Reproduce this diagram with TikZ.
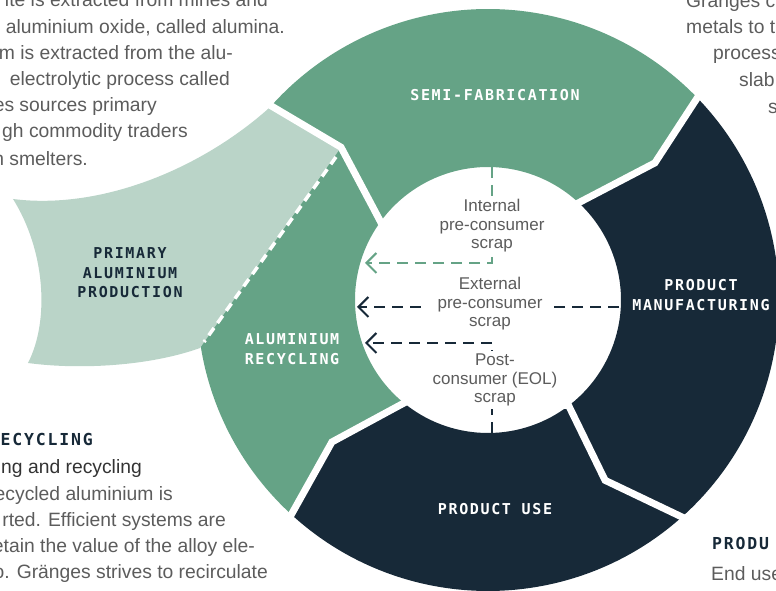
\documentclass[tikz,border=0pt]{standalone}
\usepackage{fontspec}
\setmainfont{Liberation Sans}
\newfontfamily\capsfont[LetterSpace=11]{DejaVu Sans Mono}
\usetikzlibrary{arrows.meta}
\definecolor{ringgreen}{HTML}{65A386}
\definecolor{ringnavy}{HTML}{172938}
\definecolor{palegreen}{HTML}{BAD4C8}
\definecolor{bodygrey}{HTML}{5C5C5C}

\begin{document}
\begin{tikzpicture}[x=1pt,y=1pt,
    gap/.style={white,line width=7pt,line join=miter},
    ringlabel/.style={text=white,font=\capsfont\bfseries\fontsize{15}{19.5}\selectfont,align=center},
    heading/.style={text=ringnavy,inner sep=0pt,font=\capsfont\bfseries\fontsize{16.5}{20}\selectfont},
    body/.style={text=bodygrey,inner sep=0pt,font=\fontsize{19.3}{26}\selectfont},
    scraptext/.style={fill=white,text=bodygrey,align=center,inner xsep=12pt,inner ysep=3pt,font=\fontsize{17}{18.5}\selectfont},
    flow/.style={line width=2pt,dash pattern=on 11pt off 7pt,-{Straight Barb[length=10pt,width=20pt]}}]
  \useasboundingbox (-488,-291) rectangle (288,300);
  \clip (-488,-291) rectangle (288,300);

  \fill[ringgreen] (44.4:291) arc[start angle=44.4,end angle=138.5,radius=291] -- (133.9:212) -- (145.7:133)
    arc[start angle=145.7,end angle=48.3,radius=133] -- (39.4:216) -- cycle;
  \fill[ringnavy] (-47.5:291) arc[start angle=-47.5,end angle=44.4,radius=291] -- (39.4:216) -- (48.3:133)
    arc[start angle=48.3,end angle=-51.9,radius=133] -- (-57:215) -- cycle;
  \fill[ringnavy] (-132.1:291) arc[start angle=-132.1,end angle=-47.5,radius=291] -- (-57:215) -- (-51.9:133)
    arc[start angle=-51.9,end angle=-127.7,radius=133] -- (-137.7:211) -- cycle;
  \fill[ringgreen] (138.5:291) arc[start angle=138.5,end angle=227.9,radius=291] -- (-137.7:211) -- (-127.7:133)
    arc[start angle=232.3,end angle=145.7,radius=133] -- (133.9:212) -- cycle;

  \fill[palegreen] (-475,101) .. controls (-388,90) and (-288,130) .. (138.5:291) -- (133.9:212) -- (-288,-48)
    .. controls (-338,-66) and (-408,-70) .. (-460,-63) .. controls (-438,-20) and (-443,50) .. (-475,101) -- cycle;
  \draw[white,line width=3.5pt,dash pattern=on 9pt off 6pt] (-152,143) -- (-284,-42);

  \draw[gap] (138.5:300) -- (133.9:212) -- (145.7:125);
  \draw[gap] (44.4:300) -- (39.4:216) -- (48.3:125);
  \draw[gap] (-47.5:300) -- (-57:215) -- (-51.9:125);
  \draw[gap] (-132.1:300) -- (-137.7:211) -- (-127.7:125);

  \node[ringlabel] (semifab) at (7,205) {SEMI-FABRICATION};
  \node[ringlabel] (manuf) at (213,5) {PRODUCT\\MANUFACTURING};
  \node[ringlabel] (produse) at (7,-209) {PRODUCT USE};
  \node[ringlabel] (recycling) at (-196,-49) {ALUMINIUM\\RECYCLING};
  \node[ringlabel,text=ringnavy] (primary) at (-358,27) {PRIMARY\\ALUMINIUM\\PRODUCTION};

  \coordinate (int-start) at (4,133);
  \coordinate (int-bend) at (4,37);
  \coordinate (int-end) at (-123,37);
  \coordinate (ext-start) at (131,-7);
  \coordinate (ext-end) at (-131,-7);
  \coordinate (post-start) at (4,-133);
  \coordinate (post-bend) at (4,-43);
  \coordinate (post-end) at (-123,-43);
  \draw[flow,ringgreen] (int-start) -- (int-bend) -- (int-end);
  \draw[flow,ringnavy] (ext-start) -- (ext-end);
  \draw[flow,ringnavy] (post-start) -- (post-bend) -- (post-end);
  \node[scraptext] (internal) at (4,74) {Internal\\pre-consumer\\scrap};
  \node[scraptext] (external) at (2,-4) {External\\pre-consumer\\scrap};
  \node[scraptext] (postcons) at (7,-80) {Post-\\consumer (EOL)\\scrap};

  \node[body,anchor=base east] (tl1) at (-220,293.3) {ite is extracted from mines and};
  \node[body,anchor=base east] (tl2) at (-203,266.7) {aluminium oxide, called alumina.};
  \node[body,anchor=base east] (tl3) at (-255,240.7) {m is extracted from the alu-};
  \node[body,anchor=base east] (tl4) at (-258,214.3) {electrolytic process called};
  \node[body,anchor=base east] (tl5) at (-331,188) {es sources primary};
  \node[body,anchor=base east] (tl6) at (-300,162) {gh commodity traders};
  \node[body,anchor=base east] (tl7) at (-400,134.3) {n smelters.};

  \node[body,anchor=base west] (tr1) at (198,292.7) {Gränges c};
  \node[body,anchor=base west] (tr2) at (198,266.7) {metals to t};
  \node[body,anchor=base west] (tr3) at (225,240) {process};
  \node[body,anchor=base west] (tr4) at (251,213.3) {slab};
  \node[body,anchor=base west] (tr5) at (280,186.7) {s};

  \node[heading,anchor=base east] (bl1) at (-395,-146) {ECYCLING};
  \node[body,anchor=base east,text=black!80] (bl2) at (-346,-173) {ng and recycling};
  \node[body,anchor=base east] (bl3) at (-315,-200) {ecycled aluminium is};
  \node[body,anchor=base east] (bl4) at (-262,-226) {rted. Efficient systems are};
  \node[body,anchor=base east] (bl5) at (-233,-252) {etain the value of the alloy ele-};
  \node[body,anchor=base east] (bl6) at (-220,-278) {o. Gränges strives to recirculate};

  \node[heading,anchor=base west] (br1) at (224,-249) {PRODU};
  \node[body,anchor=base west] (br2) at (223,-280) {End use};
\end{tikzpicture}
\end{document}
